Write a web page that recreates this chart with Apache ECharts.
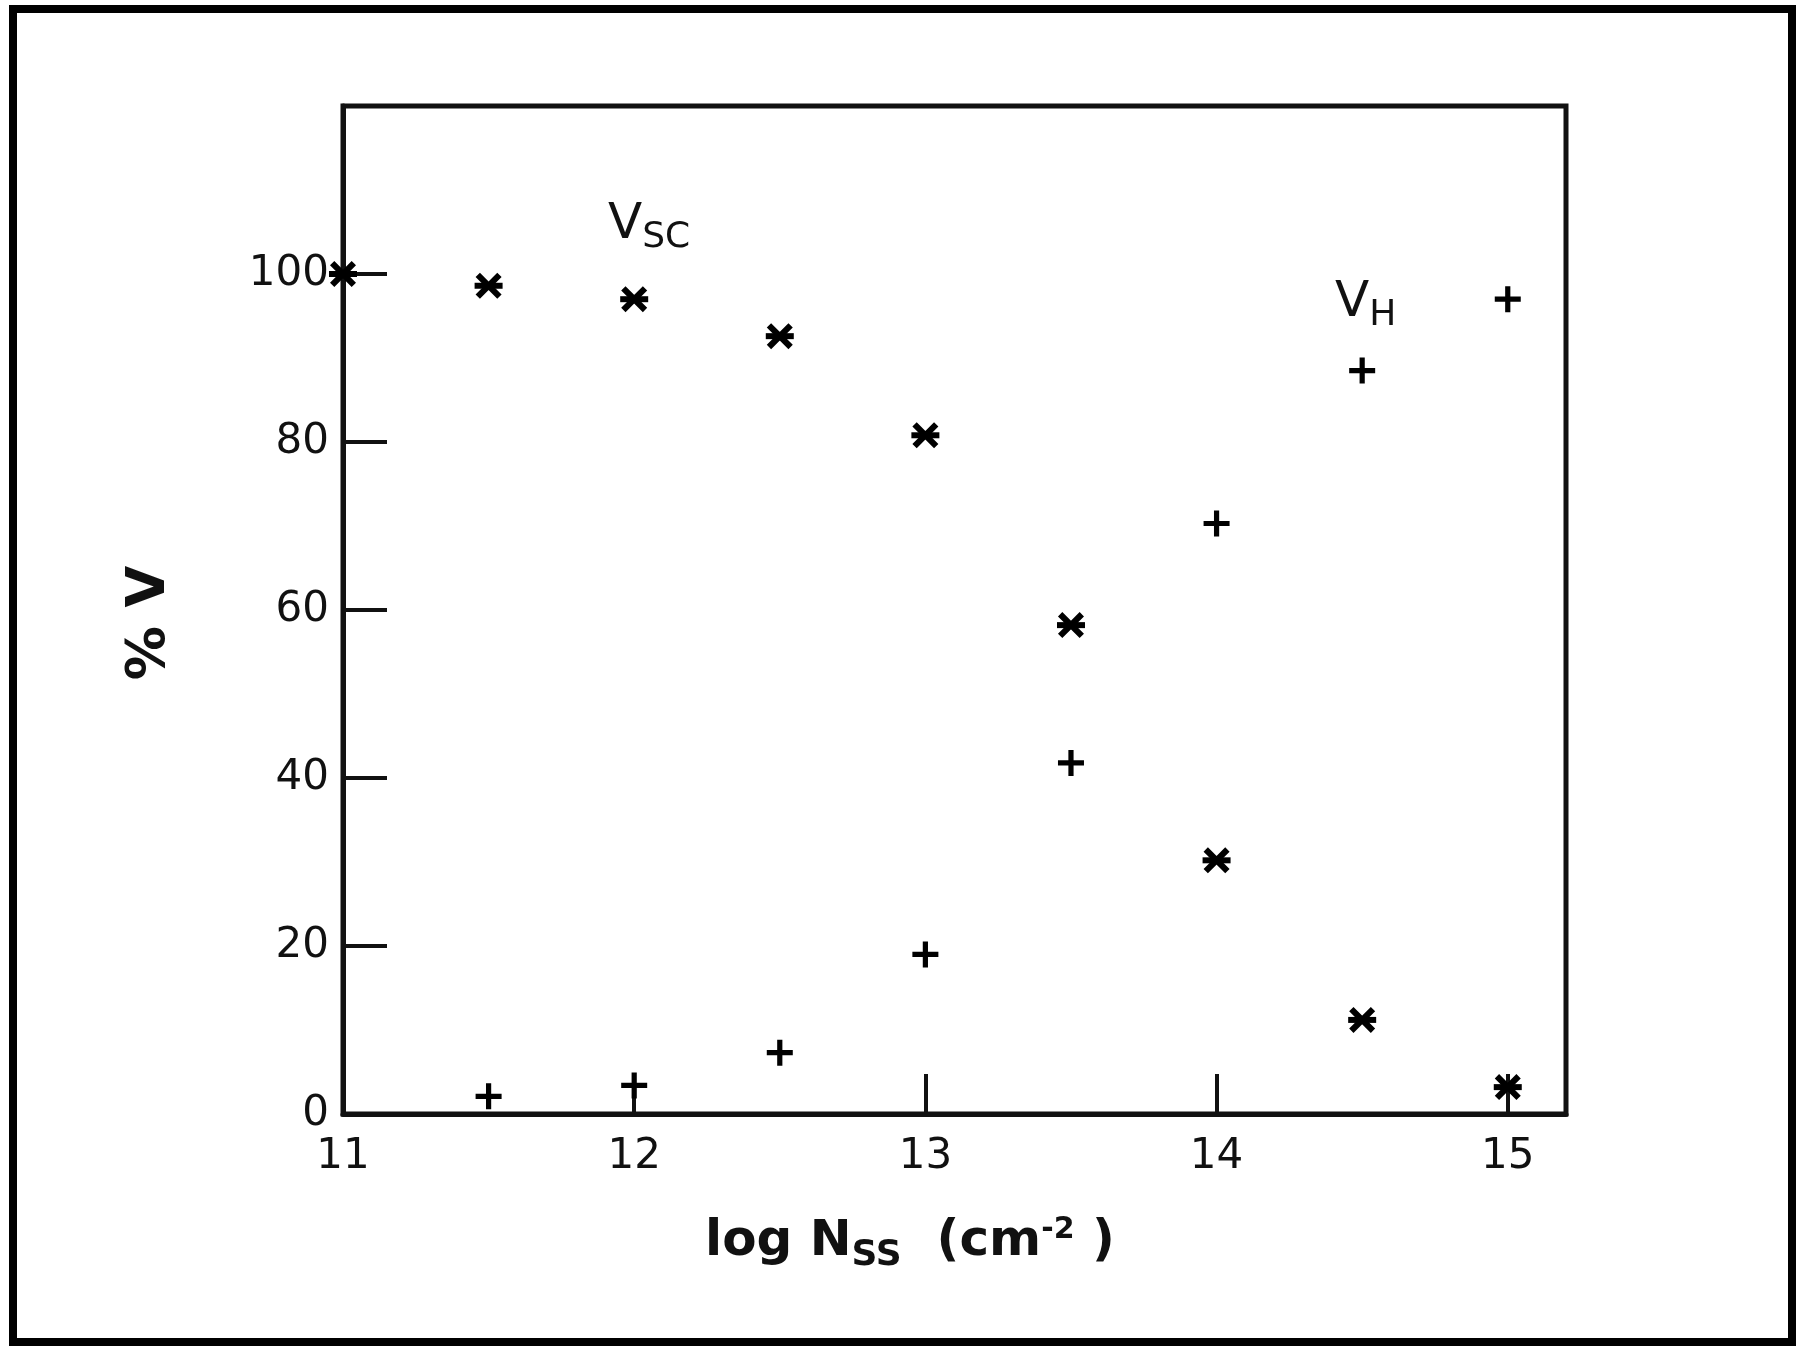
<!DOCTYPE html>
<html><head><meta charset="utf-8">
<script src="https://cdn.jsdelivr.net/npm/echarts@6/dist/echarts.min.js"></script>
<style>html,body{margin:0;padding:0;background:#fff}#c{width:1805px;height:1351px}</style>
</head><body><div id="c"></div>
<script>
const logN = [11, 11.5, 12, 12.5, 13, 13.5, 14, 14.5, 15];
const vscValues = [100, 98.6, 97, 92.6, 80.8, 58.2, 30.2, 11.2, 3.2];
const vhX = [11.5, 12, 12.5, 13, 13.5, 14, 14.5, 15];
const vhValues = [2.1, 3.4, 7.3, 19, 41.8, 70.3, 88.5, 97];
const yTicks = [0, 20, 40, 60, 80, 100];

const vscData = logN.map((x, i) => [x, vscValues[i]]);
const vhData = vhX.map((x, i) => [x, vhValues[i]]);
const font = 'DejaVu Sans';
const chart = echarts.init(document.getElementById('c'));
chart.setOption({
  backgroundColor: '#fff',
  animation: false,
  grid: {left: 343, right: 239, top: 106, bottom: 237, show: true, borderColor: '#111', borderWidth: 5},
  xAxis: {type: 'value', min: 11, max: 15.2, interval: 1,
    axisLine: {show: true, onZero: false, lineStyle: {color: '#111', width: 5}},
    axisTick: {show: true, inside: true, length: 40, lineStyle: {color: '#111', width: 4}},
    axisLabel: {color: '#111', fontSize: 42, fontFamily: font, margin: 22, formatter: v => v <= 15 ? String(v) : ''},
    splitLine: {show: false}},
  yAxis: {type: 'value', min: 0, max: 120, interval: 20,
    axisLine: {show: true, lineStyle: {color: '#111', width: 5}},
    axisTick: {show: true, inside: true, length: 44, lineStyle: {color: '#111', width: 4}},
    axisLabel: {color: '#111', fontSize: 42, fontFamily: font, margin: 14, formatter: v => yTicks.includes(v) ? String(v) : ''},
    splitLine: {show: false}},
  series: [
    {type: 'scatter', data: vscData, symbol: 'path://M-4.2,-2.8 L-2.8,-4.2 L4.2,2.8 L2.8,4.2 Z M2.8,-4.2 L4.2,-2.8 L-2.8,4.2 L-4.2,2.8 Z', symbolSize: 26, itemStyle: {color: '#000', opacity: 1}, z: 3},
    {type: 'scatter', data: vscData, symbol: 'path://M-5,-1 L5,-1 L5,1 L-5,1 Z', symbolSize: [28, 6], itemStyle: {color: '#000', opacity: 1}, z: 3},
    {type: 'scatter', data: vhData, symbol: 'path://M-1,-5 L1,-5 L1,-1 L5,-1 L5,1 L1,1 L1,5 L-1,5 L-1,1 L-5,1 L-5,-1 L-1,-1 Z', symbolSize: 26, itemStyle: {color: '#000', opacity: 1}, z: 3}
  ],
  graphic: [
    {type: 'rect', shape: {x: 13, y: 9, width: 1779, height: 1333}, style: {fill: 'none', stroke: '#000', lineWidth: 8}},
    {type: 'text', left: 608, top: 200, style: {text: '{a|V}{b|SC}', rich: {a: {fontSize: 50, fontFamily: font, fill: '#111'}, b: {fontSize: 36, fontFamily: font, fill: '#111', padding: [26, 0, 0, 0]}}}},
    {type: 'text', left: 1335, top: 278, style: {text: '{a|V}{b|H}', rich: {a: {fontSize: 50, fontFamily: font, fill: '#111'}, b: {fontSize: 36, fontFamily: font, fill: '#111', padding: [26, 0, 0, 0]}}}},
    {type: 'text', x: 150, y: 623, rotation: Math.PI / 2, style: {text: '% V', fontSize: 54, fontFamily: font, fontWeight: 'bold', fill: '#111', align: 'center', verticalAlign: 'middle'}},
    {type: 'text', left: 705, top: 1215, style: {text: '{a|log N}{b|SS}{a|  (cm}{c|-2}{a| )}', rich: {a: {fontSize: 50, fontFamily: font, fontWeight: 'bold', fill: '#111'}, b: {fontSize: 36, fontFamily: font, fontWeight: 'bold', fill: '#111', padding: [28, 0, 0, 0]}, c: {fontSize: 30, fontFamily: font, fontWeight: 'bold', fill: '#111', padding: [0, 0, 24, 0]}}}}
  ]
});
</script></body></html>
